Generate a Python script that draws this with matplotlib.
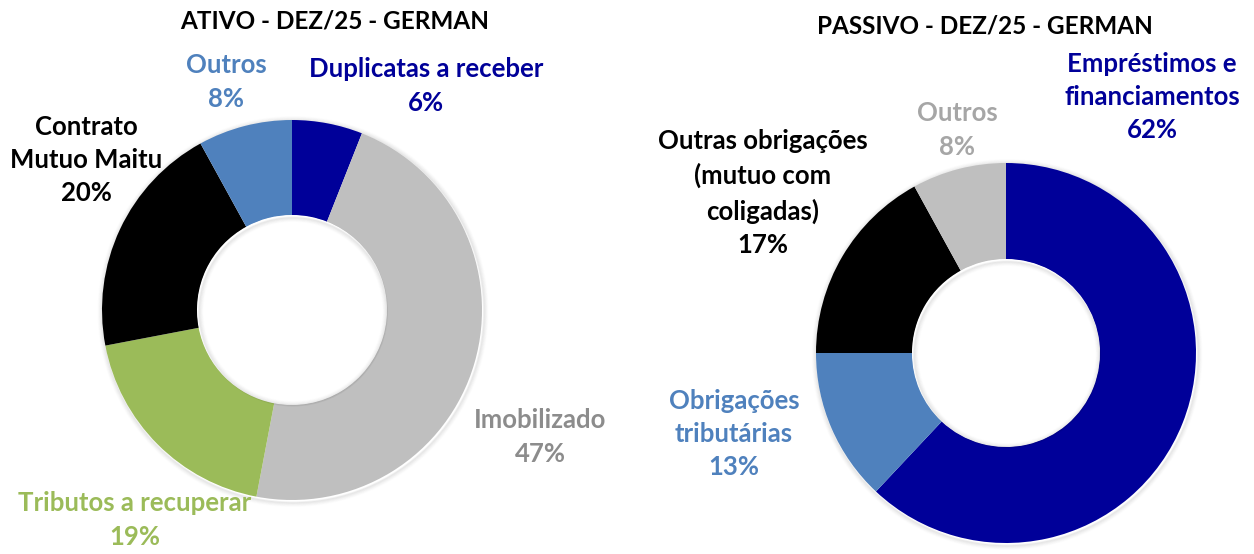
import matplotlib.pyplot as plt
from matplotlib.patches import Circle

# dados
ativo_labels = ['Duplicatas a receber', 'Imobilizado', 'Tributos a recuperar',
                'Contrato\nMutuo Maitu', 'Outros']
ativo_vals = [6, 47, 19, 20, 8]
ativo_cores = ['#000099', '#BFBFBF', '#9BBB59', '#000000', '#4F81BD']
ativo_txt = ['#000099', '#8C8C8C', '#9BBB59', '#000000', '#4F81BD']

passivo_labels = ['Empréstimos e\nfinanciamentos', 'Obrigações\ntributárias',
                  'Outras obrigações\n(mutuo com\ncoligadas)', 'Outros']
passivo_vals = [62, 13, 17, 8]
passivo_cores = ['#000099', '#4F81BD', '#000000', '#BFBFBF']
passivo_txt = ['#000099', '#4F81BD', '#000000', '#A6A6A6']

plt.rcParams['font.family'] = ['Lato', 'DejaVu Sans']
plt.rcParams['font.weight'] = 'bold'

W, H = 1254, 554
fig = plt.figure(figsize=(W / 100, H / 100), dpi=100)
ax = fig.add_axes([0, 0, 1, 1])


def donut(vals, cores, centro, raio, furo):
    cx, cy = centro
    # sombra suave
    for k in range(1, 7):
        a = 0.05 * (7 - k) / 6
        ax.add_patch(Circle((cx + 1, cy - 1.5), raio + k * 0.8, fill=False,
                            lw=1.2, ec='black', alpha=a, zorder=0))
        ax.add_patch(Circle((cx + 1, cy - 1.5), furo - k * 0.8, fill=False,
                            lw=1.2, ec='black', alpha=a, zorder=3))
    ax.pie(vals, colors=cores, startangle=90, counterclock=False,
           center=centro, radius=raio,
           wedgeprops=dict(width=raio - furo, edgecolor='none', zorder=2))
    ax.add_patch(Circle(centro, furo - 0.5, fc='white', ec='none', zorder=2.5))


donut(ativo_vals, ativo_cores, (292, H - 310), 190, 95)
donut(passivo_vals, passivo_cores, (1006, H - 353), 190, 94)

ax.set_xlim(0, W)
ax.set_ylim(0, H)
ax.set_aspect('equal')
ax.axis('off')

# posicoes dos rotulos (pixels, origem no topo)
ativo_pos = [(426, 86), (540, 437), (135, 520), (86, 160), (226, 82)]
passivo_pos = [(1152, 97), (734, 434), (763, 193), (957, 130)]

fs = 18.5
for lab, v, c, (x, y) in zip(ativo_labels, ativo_vals, ativo_txt, ativo_pos):
    ax.text(x, H - y, f'{lab}\n{v}%', color=c, fontsize=fs, fontweight='bold',
            ha='center', va='center', linespacing=1.47, zorder=5)
for lab, v, c, (x, y) in zip(passivo_labels, passivo_vals, passivo_txt, passivo_pos):
    ax.text(x, H - y, f'{lab}\n{v}%', color=c, fontsize=fs, fontweight='bold',
            ha='center', va='center', linespacing=1.47, zorder=5)

ax.text(335, H - 21, 'ATIVO - DEZ/25 - GERMAN', fontsize=17.5, fontweight='bold',
        ha='center', va='center')
ax.text(985, H - 26, 'PASSIVO - DEZ/25 - GERMAN', fontsize=17.5, fontweight='bold',
        ha='center', va='center')

fig.savefig('out.png', dpi=100)
